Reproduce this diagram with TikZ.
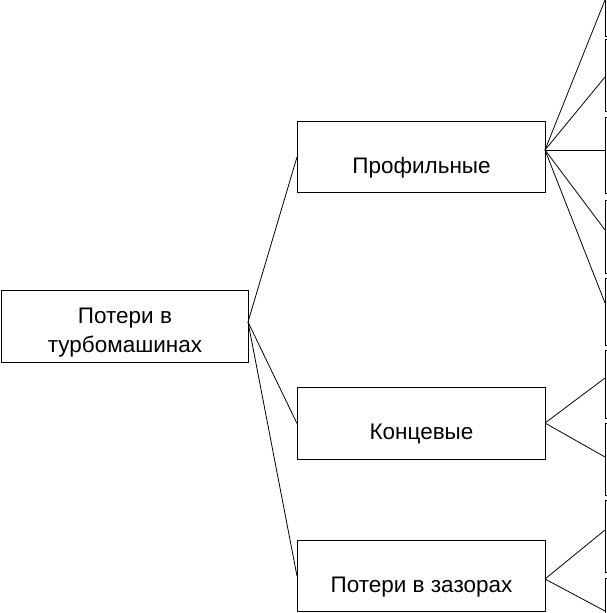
\documentclass[tikz,border=0pt]{standalone}
\usepackage{fontspec}
\setmainfont{Liberation Sans}
\begin{document}
\begin{tikzpicture}[x=1pt,y=-1pt,
  box/.style={draw,line width=1pt,rectangle,inner sep=0pt,anchor=north west,
    font=\fontsize{22.5}{29}\selectfont,align=center},
  rbox/.style={draw,line width=1pt,rectangle,inner sep=0pt,anchor=north west,minimum width=60pt},
  con/.style={line width=0.8pt}]
\useasboundingbox (0,0) rectangle (606,613);
\node[box,minimum width=247pt] (main) at (1,290) {\rule{0pt}{33pt}Потери в\\турбомашинах\rule[-10pt]{0pt}{10pt}};
\node[box,minimum width=248pt,text height=52pt,text depth=19pt] (prof) at (297,121) {Профильные};
\node[box,minimum width=248pt,text height=52pt,text depth=20pt] (konc) at (297,387) {Концевые};
\node[box,minimum width=248pt,text height=52pt,text depth=19pt] (zaz) at (297,540) {Потери в зазорах};
% cut-off boxes on the right
\node[rbox,minimum height=76pt] (r1) at (605,-40) {};
\node[rbox,minimum height=72pt] (r2) at (605,39) {};
\node[rbox,minimum height=76pt] (r3) at (605,117) {};
\node[rbox,minimum height=73pt] (r4) at (605,200) {};
\node[rbox,minimum height=67pt] (r5) at (605,278) {};
\node[rbox,minimum height=68pt] (r6) at (605,350) {};
\node[rbox,minimum height=72pt] (r7) at (605,423) {};
\node[rbox,minimum height=72pt] (r8) at (605,500) {};
\node[rbox,minimum height=72pt] (r9) at (605,578) {};
% connection points
\coordinate (mo) at (248,322);
\coordinate (po) at (545,150);
\coordinate (ko) at (545,423);
\coordinate (zo) at (545,579);
\coordinate (e1) at (605,0);
\coordinate (e2) at (605,77);
\coordinate (e3) at (605,150);
\coordinate (e4) at (605,230);
\coordinate (e5) at (605,303);
\coordinate (e6) at (605,378);
\coordinate (e7) at (605,457);
\coordinate (e8) at (605,530);
\coordinate (e9) at (605,611);
\draw[con] (mo) -- (prof.west);
\draw[con] (mo) -- (konc.west);
\draw[con] (mo) -- (zaz.west);
\foreach \e in {e1,e2,e3,e4,e5} \draw[con] (po) -- (\e);
\foreach \e in {e6,e7} \draw[con] (ko) -- (\e);
\foreach \e in {e8,e9} \draw[con] (zo) -- (\e);
\end{tikzpicture}
\end{document}
